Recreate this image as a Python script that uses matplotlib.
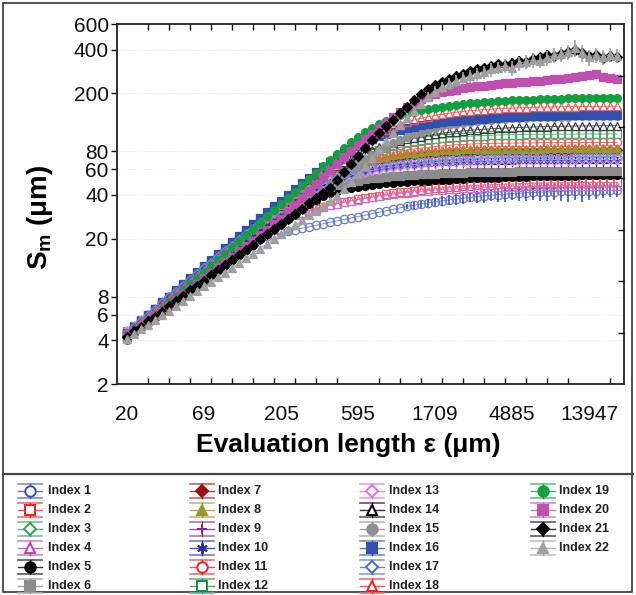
import numpy as np
import matplotlib
matplotlib.use('Agg')
import matplotlib.pyplot as plt
from matplotlib.lines import Line2D
from matplotlib.colors import to_rgb

plt.rcParams['font.family'] = ['Liberation Sans', 'DejaVu Sans']
plt.rcParams['mathtext.fontset'] = 'custom'
plt.rcParams['mathtext.bf'] = 'Liberation Sans:bold'
plt.rcParams['mathtext.rm'] = 'Liberation Sans:bold'
plt.rcParams['mathtext.default'] = 'bf'

# ---------------- data ----------------
eps_tick_labels = ['20', '69', '205', '595', '1709', '4885', '13947']
eps_tick_index = [0, 11, 22, 33, 44, 55, 66]
y_tick_values = [2, 4, 6, 8, 20, 40, 60, 80, 200, 400, 600]
y_right_ticks = [4.5, 10.2, 23, 52, 117, 265]
labels = ['Index %d' % i for i in range(1, 23)]

sm_1 = [4.5,4.9,5.4,5.9,6.5,7.1,7.8,8.5,9.3,10.2,11.2,12.2,13.3,14.4,15.5,16.6,
        17.6,18.5,19.3,20.0,20.7,21.3,21.9,22.5,23.0,23.6,24.1,24.7,25.3,25.9,26.5,27.1,27.7,28.4,29.0,29.7,
        30.4,31.1,31.8,32.6,33.3,34.0,34.6,35.2,35.8,36.4,37.0,37.5,38.0,38.5,39.0,39.4,39.8,40.2,40.5,40.8,
        41.1,41.4,41.6,41.8,42.0,42.2,42.4,42.5,42.6,42.7,42.8,42.9,43.0,43.0,43.0]
sm_2 = [4.6,5.0,5.5,6.0,6.6,7.2,7.9,8.6,9.4,10.3,11.3,12.4,13.5,14.7,16.0,17.4,18.9,20.4,21.9,
        23.3,24.6,25.8,27.0,28.1,29.2,30.2,31.2,32.2,33.1,34.0,34.9,35.8,36.6,37.4,38.2,38.9,39.6,40.3,41.0,
        41.6,42.2,42.8,43.3,43.8,44.3,44.7,45.1,45.5,45.9,46.2,46.5,46.8,47.0,47.2,47.4,47.6,47.8,48.0,48.1,
        48.2,48.3,48.4,48.5,48.5,48.6,48.6,48.7,48.7,48.8,48.8,48.8]
sm_3 = [4.5,4.9,5.4,6.0,6.5,7.2,7.9,8.7,9.6,10.5,11.5,12.6,13.8,15.2,16.6,18.2,19.9,21.8,23.8,26.0,28.4,30.9,33.5,36.2,
        39.0,41.8,44.6,47.3,49.9,52.4,54.7,56.9,58.9,60.8,62.5,64.1,65.6,67.0,68.2,69.3,70.3,71.2,72.0,72.7,73.3,
        73.9,74.4,74.8,75.2,75.5,75.8,76.0,76.2,76.4,76.5,76.6,76.7,76.8,76.9,77.0,77.0,77.1,77.1,77.2,77.2,77.2,
        77.3,77.3,77.3,77.4,77.4]
sm_4 = [4.5,4.9,5.4,5.9,6.5,7.1,7.8,8.5,9.3,10.2,11.2,12.3,13.4,14.6,15.9,17.3,18.7,20.2,21.6,
        23.0,24.3,25.5,26.7,27.8,28.9,30.0,31.0,32.0,33.0,33.9,34.8,35.6,36.4,37.2,37.9,38.6,39.3,39.9,40.5,
        41.0,41.5,42.0,42.4,42.8,43.2,43.5,43.8,44.1,44.4,44.6,44.8,45.0,45.2,45.4,45.5,45.6,45.7,45.8,45.9,
        46.0,46.0,46.1,46.1,46.2,46.2,46.2,46.3,46.3,46.3,46.3,46.3]
sm_5 = [4.2,4.6,4.9,5.4,5.8,6.3,6.9,7.4,8.1,8.8,9.5,10.3,11.2,12.1,13.1,14.3,15.5,16.8,18.2,19.8,21.4,23.3,25.2,
        27.4,29.7,32.0,34.5,
        37.0,39.3,41.2,42.7,43.9,44.9,45.7,46.4,47.0,47.5,48.0,48.4,48.8,49.2,49.5,49.8,50.1,50.4,50.7,51.0,
        51.3,51.6,51.9,52.1,52.3,52.5,52.7,52.9,53.1,53.3,53.5,53.7,53.9,54.0,54.1,54.2,54.3,54.4,54.5,54.6,
        54.7,54.8,54.9,55.0]
sm_6 = [4.3,4.7,5.1,5.6,6.1,6.7,7.3,8.0,8.7,9.5,10.4,11.3,12.4,13.5,14.8,16.1,17.6,19.2,21.0,22.9,25.0,27.2,
        29.5,31.9,34.3,
        36.7,39.0,41.2,43.2,45.0,46.6,48.0,49.2,50.2,51.1,51.9,52.6,53.2,53.8,54.3,54.7,55.1,55.5,55.8,56.1,
        56.4,56.6,56.8,57.0,57.2,57.4,57.5,57.6,57.7,57.8,57.9,58.0,58.0,58.1,58.1,58.2,58.2,58.3,58.3,58.3,
        58.4,58.4,58.4,58.5,58.5,58.5]
sm_7 = [4.3,4.7,5.1,5.6,6.1,6.7,7.3,8.0,8.7,9.5,10.4,11.3,12.4,13.5,14.8,16.1,17.6,19.2,21.0,22.9,25.0,27.3,
        29.8,32.5,35.4,38.5,41.7,
        45.0,48.3,51.5,54.6,57.5,60.2,62.7,65.0,67.1,69.0,70.7,72.2,73.5,74.6,75.5,76.3,77.0,77.6,78.1,78.5,
        78.9,79.2,79.5,79.7,79.9,80.1,80.2,80.3,80.4,80.5,80.6,80.6,80.7,80.7,80.8,80.8,80.8,80.9,80.9,80.9,
        81.0,81.0,81.0,81.0]
sm_8 = [4.3,4.7,5.2,5.6,6.2,6.7,7.4,8.0,8.8,9.6,10.5,11.5,12.5,13.7,15.0,16.4,17.9,19.5,21.3,23.3,25.4,27.7,
        30.2,32.9,35.8,38.9,42.2,
        45.6,49.0,52.4,55.7,58.8,61.7,64.4,66.9,69.2,71.3,73.1,74.7,76.1,77.3,78.3,79.2,80.0,80.6,81.1,81.5,
        81.9,82.2,82.4,82.6,82.8,82.9,83.0,83.1,83.2,83.3,83.3,83.4,83.4,83.5,83.5,83.5,83.6,83.6,83.6,83.6,
        83.7,83.7,83.7,83.7]
sm_9 = [4.3,4.7,5.2,5.6,6.1,6.7,7.3,8.0,8.8,9.6,10.5,11.4,12.5,13.6,14.9,16.2,17.7,19.3,21.1,23.0,25.1,27.4,
        29.8,32.4,35.1,37.9,
        40.7,43.4,46.0,48.4,50.6,52.5,54.2,55.7,57.0,58.1,59.1,60.0,60.8,61.5,62.1,62.6,63.1,63.5,63.9,64.2,
        64.5,64.8,65.0,65.2,65.4,65.5,65.6,65.7,65.8,65.9,66.0,66.0,66.1,66.1,66.2,66.2,66.2,66.3,66.3,66.3,
        66.4,66.4,66.4,66.5,66.5]
sm_10 = [4.4,4.8,5.2,5.7,6.2,6.8,7.4,8.1,8.9,9.7,10.6,11.6,12.7,13.8,15.1,16.5,18.0,19.6,21.4,23.3,25.4,27.7,
         30.1,32.7,35.5,38.4,
         41.4,44.3,47.1,49.7,52.1,54.2,56.1,57.7,59.1,60.3,61.4,62.3,63.1,63.8,64.4,64.9,65.4,65.8,66.1,66.4,
         66.7,66.9,67.1,67.3,67.4,67.5,67.6,67.7,67.8,67.9,68.0,68.0,68.1,68.1,68.2,68.2,68.2,68.3,68.3,68.3,
         68.4,68.4,68.4,68.5,68.5]
sm_11 = [4.5,4.9,5.4,6.0,6.5,7.2,7.9,8.7,9.6,10.5,11.5,12.7,13.9,15.3,16.8,18.4,20.2,22.1,24.2,26.5,29.0,31.6,
         34.4,37.3,40.3,
         43.4,46.6,49.8,53.0,56.1,59.1,62.0,64.8,67.4,69.9,72.2,74.4,76.4,78.2,79.9,81.4,82.8,84.0,85.1,86.1,
         87.0,87.7,88.4,89.0,89.5,89.9,90.2,90.5,90.7,90.9,91.0,91.1,91.2,91.3,91.4,91.5,91.5,91.6,91.6,91.7,
         91.7,91.7,91.8,91.8,91.8,91.8]
sm_12 = [4.5,5.0,5.5,6.0,6.6,7.2,7.9,8.7,9.6,10.5,11.6,12.7,14.0,15.4,16.9,18.5,20.3,22.3,24.4,26.8,29.3,32.0,
         34.9,37.9,41.1,
         44.5,48.0,51.6,55.2,58.8,62.4,65.9,69.3,72.6,75.7,78.7,81.5,84.1,86.5,88.7,90.7,92.5,94.1,95.6,96.9,
         98.0,99.0,99.9,100.7,101.4,102.0,102.5,102.9,103.3,103.6,103.9,104.1,104.3,104.4,104.5,104.6,104.7,
         104.8,104.8,104.9,104.9,105.0,105.0,105.0,105.1,105.1]
sm_13 = [4.6,5.0,5.5,6.0,6.6,7.3,8.0,8.7,9.6,10.5,11.5,12.6,13.8,15.1,16.5,18.1,19.8,21.6,23.6,25.7,28.0,30.4,32.9,
         35.4,37.9,40.4,42.8,45.1,47.3,49.4,51.3,53.1,54.8,56.3,57.7,59.0,60.2,61.3,62.3,63.2,64.0,64.7,65.4,
         66.0,66.5,67.0,67.4,67.8,68.1,68.4,68.7,68.9,69.1,69.3,69.4,69.5,69.6,69.7,69.8,69.9,70.0,70.0,70.1,
         70.1,70.2,70.2,70.2,70.3,70.3,70.3,70.4]
sm_14 = [4.4,4.8,5.3,5.8,6.4,7.0,7.7,8.4,9.2,10.1,11.1,12.2,13.4,14.7,16.1,17.7,19.4,21.3,23.4,25.7,28.2,30.9,
         33.8,36.9,40.2,43.7,
         47.4,51.2,55.1,59.1,63.1,67.1,71.0,74.8,78.5,82.0,85.3,88.4,91.3,94.0,96.5,98.8,100.9,102.8,104.6,
         106.2,107.7,109.0,110.2,111.3,112.3,113.2,114.0,114.7,115.4,116.0,116.5,117.0,117.4,117.8,118.1,
         118.4,118.7,118.9,119.1,119.3,119.5,119.6,119.7,119.8,119.9]
sm_15 = [4.2,4.6,5.0,5.4,5.9,6.4,6.9,7.5,8.2,8.9,9.7,10.5,11.4,12.4,13.5,14.7,16.0,17.4,18.9,20.5,22.3,24.2,
         26.3,28.6,31.1,33.8,36.7,39.9,43.4,
         47.2,51.3,55.7,60.4,65.3,70.4,75.6,80.8,86.0,91.0,95.8,100.3,104.5,108.4,112.0,115.3,118.3,121.0,
         123.4,125.6,127.5,129.2,130.7,132.0,133.1,134.1,135.0,135.7,136.3,136.8,137.2,137.6,137.9,138.2,
         138.4,138.6,138.8,139.0,139.1,139.2,139.3,139.4]
sm_16 = [4.5,4.9,5.4,6.0,6.6,7.3,8.0,8.8,9.7,10.7,11.8,13.0,14.3,15.7,17.3,19.0,20.9,23.0,25.3,27.8,30.5,33.4,36.5,
         40.0,44.0,48.2,52.6,57.2,62.0,67.0,72.1,77.2,82.3,87.3,92.1,96.7,101.0,105.0,108.7,112.1,115.2,118.0,
         120.5,122.7,124.7,126.5,128.1,129.6,130.9,132.1,133.2,134.2,135.1,135.9,136.7,137.4,138.0,138.6,
         139.1,139.6,140.0,140.4,140.8,141.1,141.4,141.7,142.0,142.2,142.4,142.6,142.8]
sm_17 = [4.5,4.9,5.4,5.9,6.5,7.2,7.9,8.6,9.5,10.4,11.4,12.5,13.7,15.0,16.4,17.9,19.6,21.4,23.4,25.5,27.8,30.2,32.7,
         35.3,37.9,40.5,43.1,45.6,48.0,50.3,52.4,54.4,56.2,57.9,59.4,60.8,62.1,63.3,64.4,65.4,66.3,67.1,67.8,
         68.5,69.1,69.6,70.1,70.5,70.9,71.2,71.5,71.8,72.0,72.2,72.4,72.5,72.6,72.7,72.8,72.9,73.0,73.0,73.1,
         73.1,73.2,73.2,73.2,73.3,73.3,73.3,73.4]
sm_18 = [4.4,4.8,5.3,5.8,6.4,7.0,7.7,8.4,9.2,10.1,11.1,12.2,13.4,14.7,16.1,17.7,19.4,21.3,23.4,25.7,28.2,30.9,
         33.9,37.1,40.6,
         45.0,49.5,54.3,59.5,65.0,70.8,76.8,83.0,89.2,95.4,101.4,107.2,112.7,117.8,122.6,127.0,131.0,134.6,
         137.9,140.9,143.6,146.0,148.2,150.1,151.8,153.3,154.6,155.8,156.8,157.7,158.5,159.2,159.8,160.3,
         160.8,161.2,161.5,161.8,162.1,162.3,162.5,162.7,162.9,163.0,163.1,163.2]
sm_19 = [4.0,4.5,5.0,5.5,6.0,6.6,7.3,8.0,8.8,9.7,10.7,11.8,13.0,14.3,15.8,17.4,19.2,21.2,23.4,25.8,28.5,31.4,
         34.6,38.1,41.9,
         46.5,51.5,57.0,63.0,69.5,76.5,84.0,91.8,99.8,107.8,115.5,122.8,129.5,135.5,140.8,145.5,149.6,153.2,
         156.4,159.3,161.9,164.3,166.5,168.5,170.3,172.0,173.6,175.0,176.3,177.5,178.6,179.6,180.5,181.3,
         182.0,182.7,183.3,183.9,184.4,184.9,185.3,185.7,186.0,186.3,186.6,186.8]
sm_20 = [4.2,4.6,5.0,5.4,5.9,6.4,7.0,7.6,8.3,9.0,9.8,10.7,11.7,12.7,13.8,15.0,16.4,17.8,19.4,21.1,23.0,25.1,
         27.5,30.5,34.0,38.0,42.5,47.5,53.0,59.0,65.5,72.5,80.0,88.0,96.5,105.5,115.0,126.0,137.0,148.0,160.0,
         172.0,182.0,190.0,197.0,203.0,208.0,212.0,216.0,220.0,223.0,226.0,229.0,232.0,235.0,237.0,239.0,
         241.0,243.0,245.0,248.0,250.0,253.0,256.0,260.0,265.0,268.0,270.0,260.0,255.0,252.0]
sm_21 = [4.2,4.6,4.9,5.4,5.8,6.3,6.9,7.4,8.1,8.8,9.5,10.3,11.2,12.1,13.1,14.3,15.5,16.8,18.2,19.8,21.4,23.3,
         25.2,27.4,29.7,32.2,35.0,38.0,41.2,44.7,
         50.5,57.5,65.5,74.5,84.5,95.5,107,119,132,146,162,180,198,214,228,240,252,263,273,283,292,300,308,
         316,312,325,335,330,345,355,368,360,375,388,395,380,360,365,350,362,358]
sm_22 = [4.1,4.4,4.8,5.1,5.5,6.0,6.4,6.9,7.5,8.1,8.7,9.4,10.1,10.9,11.7,12.6,13.6,14.7,15.8,17.1,18.4,19.8,
         21.4,23.0,24.8,26.8,28.9,31.1,33.5,36.1,
         39.5,43.8,49.0,55.5,63.0,72.0,82.5,94,107,121,136,152,170,188,205,220,233,244,254,263,272,280,292,
         300,310,300,322,330,340,335,352,365,375,385,410,380,355,368,355,370,362]

err_start = 40
err_1 = [1.5,1.8,2.0,2.2,2.5,2.8,3.0,3.2,3.5,3.0,3.8,4.0,3.5,4.2,4.5,4.0,4.8,5.0,4.5,5.2,5.5,5.0,6.0,
         6.5,5.5,7.0,6.0,5.5,5.0,4.5,4.0]
err_21 = [8,9,10,12,13,14,15,16,17,18,18,20,20,22,22,24,24,25,26,26,28,28,30,30,32,30,28,27,26,25,24]
err_22 = [10,12,14,15,18,20,22,24,25,26,28,30,32,30,34,36,35,38,40,38,42,44,45,48,55,50,45,44,40,42,40]

series = [sm_1, sm_2, sm_3, sm_4, sm_5, sm_6, sm_7, sm_8, sm_9, sm_10, sm_11,
          sm_12, sm_13, sm_14, sm_15, sm_16, sm_17, sm_18, sm_19, sm_20, sm_21, sm_22]
errors = {0: err_1, 20: err_21, 21: err_22}

# ---------------- styles ----------------
colors = ['#3a50c0', '#f02020', '#30a050', '#c040b0', '#000000', '#8c8c8c', '#9c1010', '#98982a',
          '#7a2a9a', '#2c2c9c', '#f02020', '#139040', '#e070d0', '#000000', '#909090', '#3050b0',
          '#4a66d0', '#f02020', '#10a040', '#c050b0', '#000000', '#a0a0a0']
markers = ['o', 's', 'D', '^', 'o', 's', 'D', '^', '+', (6, 2, 0), 'o',
           's', 'D', '^', 'o', 's', 'D', '^', 'o', 's', 'D', '^']
filled = [False, False, False, False, True, True, True, True, True, True, False,
          False, False, False, True, True, False, False, True, True, True, True]


def lighten(c, f):
    r, g, b = to_rgb(c)
    return (r + (1 - r) * f, g + (1 - g) * f, b + (1 - b) * f)


W, H = 636, 595
fig = plt.figure(figsize=(W / 100, H / 100), dpi=100)
ax = fig.add_axes([117 / W, 1 - 384 / H, (624 - 117) / W, (384 - 24) / H])

for i, vals in enumerate(series):
    x = np.arange(len(vals))
    col = colors[i]
    mk = markers[i]
    if filled[i]:
        ms = 5.0 if mk == 'D' else 5.6
    else:
        ms = 5.2 if mk == 'D' else 6.0
    if mk in ('+', (6, 2, 0)):
        ms = 6
    pcol = lighten(col, 0.25) if not filled[i] else col
    ax.plot(x, vals, color=pcol, lw=0.6, marker=mk, ms=ms,
            mfc=(col if filled[i] else 'none'), mec=pcol, mew=0.9, zorder=2 + i * 0.01)
    if i in errors:
        e = errors[i]
        xe = x[err_start:err_start + len(e)]
        ye = np.array(vals[err_start:err_start + len(e)])
        ax.errorbar(xe, ye, yerr=np.array(e[:len(xe)]), fmt='none', ecolor=col,
                    elinewidth=1.2, capsize=0, zorder=2 + i * 0.01)

ax.set_yscale('log')
ax.set_ylim(2, 600)
ax.set_xlim(-1.43, 71)
ax.set_yticks(y_tick_values)
ax.set_yticklabels([str(v) for v in y_tick_values])
ax.yaxis.set_minor_locator(matplotlib.ticker.NullLocator())
ax.tick_params(axis='y', which='major', direction='out', length=4, width=1.0, pad=2,
               labelsize=15, colors='#111111', right=False)
ax.set_xticks(eps_tick_index)
ax.set_xticklabels(eps_tick_labels)
ax.set_xticks(list(range(0, 71, 3)), minor=True)
ax.tick_params(axis='x', which='major', length=0, pad=15, labelsize=15, colors='#111111')
ax.tick_params(axis='x', which='minor', direction='in', length=4, width=1.0, top=True, bottom=True)
ax.yaxis.grid(True, linestyle=':', color='#dddddd', lw=0.6)
ax.set_axisbelow(True)
for s in ax.spines.values():
    s.set_linewidth(1.3)
    s.set_color('#222222')

ax2 = ax.twinx()
ax2.set_yscale('log')
ax2.set_ylim(2, 600)
ax2.set_yticks(y_right_ticks)
ax2.set_yticklabels([])
ax2.yaxis.set_minor_locator(matplotlib.ticker.NullLocator())
ax2.tick_params(axis='y', direction='in', length=4, width=1.0)
for s in ax2.spines.values():
    s.set_visible(False)

fig.text(348 / W, 1 - 445 / H, 'Evaluation length ε (μm)', ha='center', va='center',
         fontsize=19, fontweight='bold')
fig.text(40 / W, 1 - 217 / H, r'S$_{m}$ (μm)', ha='center', va='center', rotation=90,
         fontsize=20, fontweight='bold')

# frame and separator
fig.add_artist(plt.Rectangle((3 / W, 3 / H), (632 - 3) / W, (592 - 3) / H, transform=fig.transFigure,
                             fill=False, lw=1.2, ec='#333333'))
fig.add_artist(Line2D([3 / W, 633 / W], [1 - 474 / H] * 2, transform=fig.transFigure,
                      color='#444444', lw=1.6))

# legend (manual layout, 4 columns x 6 rows)
col_cx = [30, 202, 372, 543]
col_tx = [48, 218, 389, 559]
for i, lab in enumerate(labels):
    c = i // 6
    r = i % 6
    cx, tx = col_cx[c], col_tx[c]
    cy = 491 + 19 * r
    col = colors[i]
    for dy in (-7, 7):
        fig.add_artist(Line2D([(cx - 12) / W, (cx + 12) / W], [1 - (cy + dy) / H] * 2,
                              transform=fig.transFigure, color=lighten(col, 0.35), lw=1.2))
    fig.add_artist(Line2D([(cx - 12) / W, (cx + 12) / W], [1 - cy / H] * 2,
                          transform=fig.transFigure, color=lighten(col, 0.2), lw=1.0))
    fig.add_artist(Line2D([cx / W] * 2, [1 - (cy - 7) / H, 1 - (cy + 7) / H],
                          transform=fig.transFigure, color=col, lw=1.0))
    mk = markers[i]
    ms = 6.5 if mk == 'D' else 7.5
    fig.add_artist(Line2D([cx / W], [1 - cy / H], transform=fig.transFigure, marker=mk, ms=ms,
                          mfc=(col if filled[i] else 'white'), mec=col, mew=1.4, lw=0))
    fig.text(tx / W, 1 - cy / H, lab, ha='left', va='center', fontsize=9, fontweight='bold',
             color='#222222')

fig.savefig('out.png', dpi=100)
